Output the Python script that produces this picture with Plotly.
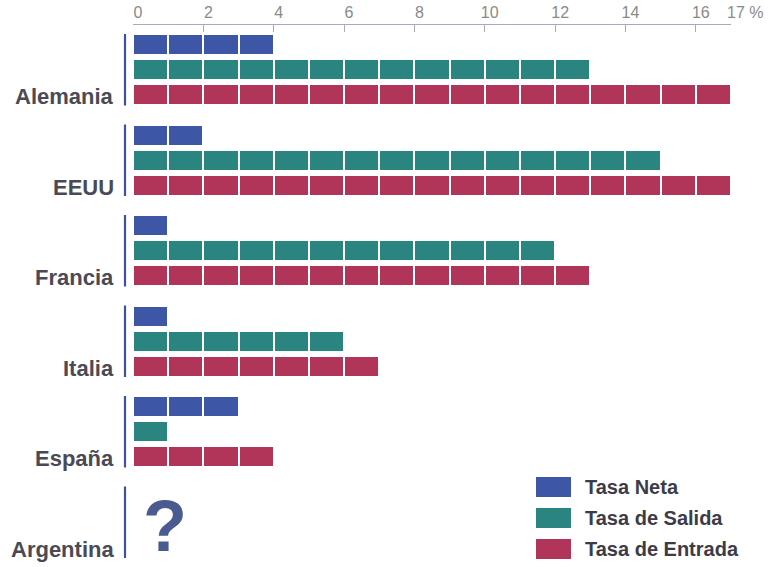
import plotly.graph_objects as go

# ---- data ----
paises = ["Alemania", "EEUU", "Francia", "Italia", "España", "Argentina"]
tasa_neta = [4, 2, 1, 1, 3, None]
tasa_salida = [13, 15, 12, 6, 1, None]
tasa_entrada = [17, 17, 13, 7, 4, None]
series_nombres = ["Tasa Neta", "Tasa de Salida", "Tasa de Entrada"]
tick_vals = [0, 2, 4, 6, 8, 10, 12, 14, 16, 17]
tick_text = ["0", "2", "4", "6", "8", "10", "12", "14", "16", ""]
ultima_etiqueta = "17 %"
sin_dato = "?"

# ---- style ----
colores = ["#3d57a6", "#2a8580", "#b13559"]
G = 3.62           # group pitch (in row units)
BAR_W = 0.84
FONT = "Liberation Sans, Arial, sans-serif"
L, R, T, B = 133, 37, 25, 8
W, H = 768, 567
PW, PH = W - L - R, H - T - B
ROW_PX = 25.0
U_TOP = -0.78


def px2paper(px, py):
    return (px - L) / PW, 1 - (py - T) / PH


fig = go.Figure()
series = [tasa_neta, tasa_salida, tasa_entrada]
for j, (nombre, vals) in enumerate(zip(series_nombres, series)):
    ys, bases, xs = [], [], []
    for i, v in enumerate(vals):
        if v is None:
            continue
        for k in range(v):
            ys.append(i * G + j)
            bases.append(k)
            xs.append(1)
    fig.add_trace(go.Bar(
        x=xs, y=ys, base=bases, orientation="h", width=BAR_W,
        name=nombre, marker=dict(color=colores[j], line=dict(color="white", width=2)),
        showlegend=False, hoverinfo="skip",
    ))

shapes = []
annotations = []
for i, p in enumerate(paises):
    shapes.append(dict(type="line", xref="paper", yref="y",
                       x0=-8 / PW, x1=-8 / PW, y0=i * G - 0.42, y1=i * G + 2.44,
                       line=dict(color="#3f50a0", width=2.2)))
    annotations.append(dict(xref="x", yref="y", x=0, y=i * G + 2, text=f"<b>{p}</b>",
                            showarrow=False, xanchor="right", yanchor="middle",
                            xshift=-17, yshift=-2,
                            font=dict(family=FONT, size=22, color="#4a4a56")))
    if tasa_neta[i] is None:
        annotations.append(dict(xref="x", yref="y", x=0.91, y=i * G + 1.15, text=f"<b>{sin_dato}</b>",
                                showarrow=False, xanchor="center", yanchor="middle",
                                font=dict(family=FONT, size=72, color="#4a5b90")))

annotations.append(dict(xref="x", yref="paper", x=17, y=1, text=ultima_etiqueta,
                        showarrow=False, xanchor="left", yanchor="bottom", xshift=-6, yshift=2,
                        font=dict(family=FONT, size=16, color="#8a8a8a")))

# custom legend
leg_rows = [487, 518, 549]
for j, nombre in enumerate(series_nombres):
    cy = leg_rows[j]
    x0, y0 = px2paper(536, cy - 10)
    x1, y1 = px2paper(571, cy + 10)
    shapes.append(dict(type="rect", xref="paper", yref="paper", x0=x0, x1=x1, y0=y1, y1=y0,
                       fillcolor=colores[j], line=dict(width=0)))
    tx, ty = px2paper(583, cy)
    annotations.append(dict(xref="paper", yref="paper", x=tx, y=ty, text=f"<b>{nombre}</b>",
                            showarrow=False, xanchor="left", yanchor="middle",
                            font=dict(family=FONT, size=20, color="#3c3c48")))

fig.update_layout(
    width=W, height=H,
    margin=dict(l=L, r=R, t=T, b=B, autoexpand=False),
    paper_bgcolor="white", plot_bgcolor="white",
    barmode="overlay", bargap=0,
    shapes=shapes, annotations=annotations,
    showlegend=False,
    xaxis=dict(side="top", range=[0, 17], tickvals=tick_vals, ticktext=tick_text,
               automargin=False,
               showline=True, linecolor="#aca8c0", linewidth=1.2,
               ticks="inside", ticklen=7, tickcolor="#aca8c0", tickwidth=1.2,
               showgrid=False, zeroline=False, ticklabelshift=5,
               tickfont=dict(family=FONT, size=16, color="#8a8a8a")),
    yaxis=dict(range=[U_TOP + PH / ROW_PX, U_TOP], showticklabels=False, automargin=False,
               showgrid=False, zeroline=False, showline=False, ticks=""),
)

fig.write_html("out.html")
